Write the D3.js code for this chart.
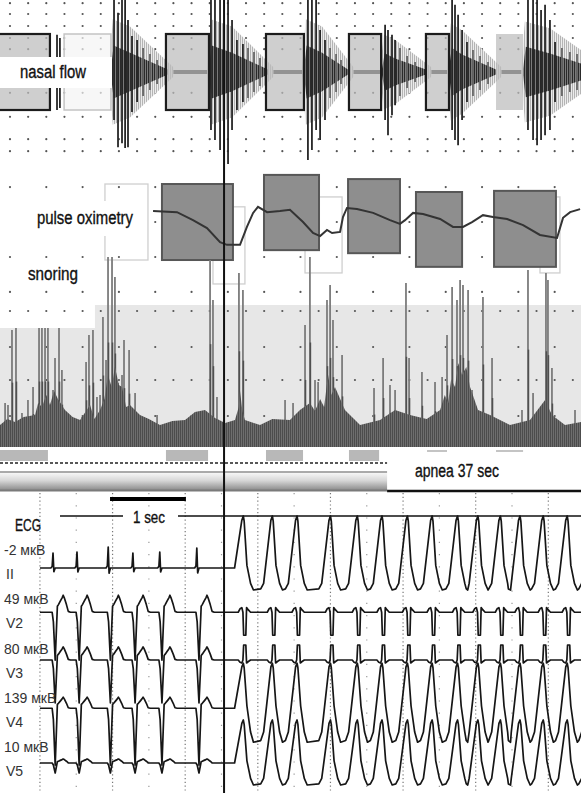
<!DOCTYPE html>
<html lang="en">
<head>
<meta charset="UTF-8">
<title>Apnea episode: nasal flow, oximetry, snoring, ECG</title>
<script src="https://d3js.org/d3.v7.min.js"></script>
<style>
  body { margin: 0; background: #fff; }
  svg { display: block; background: #fff; }
  .lbl { font-family: "Liberation Sans", Arial, sans-serif; fill: #111; stroke: #111; stroke-width: 0.35px; }
  .lead { font-family: "Liberation Sans", Arial, sans-serif; fill: #333; font-size: 14px; }
</style>
</head>
<body>
<svg width="581" height="793"></svg>
<script>
  // ---------- top panels (time in seconds) ----------
  const cursorSec = 123.4;

  // nasal flow: apnea boxes
  const flowBoxStart = [-3, 35.3, 91.4, 146.5, 192.2, 234.6, 273.2];
  const flowBoxEnd   = [27.5, 61.1, 115.1, 167.4, 209.9, 247.3, 288.1];
  const flowBoxKind  = ["dark", "light", "dark", "dark", "dark", "dark", "plain"];

  // nasal flow: breathing bursts (envelope)
  const burstStart = [61.1, 115.1, 167.4, 210.4, 247.3, 288.1];
  const burstFull  = [71.6, 127.8, 177.4, 217.6, 254.5, 302.9];
  const burstEnd   = [92.5, 147.6, 191.7, 234.6, 273.2, 330.5];
  const burstAmp   = [1.2, 1.2, 1.2, 0.85, 1.1, 1.15];

  // nasal flow: spikes
  const flowSpikeT = [31.4, 33.0, 62.8, 65.0, 67.2, 68.9, 70.5, 72.7, 75.5, 78.8, 82.6, 86.5,
                      116.2, 118.4, 121.2, 125.6, 127.8, 130.5, 133.8, 136.6, 139.9, 143.2,
                      169.6, 171.8, 174.1, 176.3, 179.0, 181.8, 185.1, 187.8,
                      212.1, 213.7, 215.9, 217.6, 220.3, 224.2, 228.6,
                      249.0, 250.6, 252.3, 254.5, 257.2, 260.5, 264.4, 268.8,
                      290.8, 293.6, 295.8, 298.0, 300.2, 302.9, 305.7, 309.5, 313.9, 317.8];
  const flowSpikeUp = [0.93, 0.85, 1.8, 1.48, 1.8, 1.8, 1.3, 0.9, 0.8, 0.6, 0.45, 0.3,
                       1.8, 1.8, 1.8, 1.8, 1.3, 0.8, 0.7, 0.6, 0.5, 0.35,
                       1.8, 1.8, 1.8, 1.05, 0.8, 0.6, 0.45, 0.3,
                       1.18, 1.05, 0.93, 0.8, 0.6, 0.4, 0.25,
                       1.8, 1.68, 1.43, 1.05, 0.75, 0.55, 0.4, 0.25,
                       1.8, 1.8, 1.8, 1.55, 1.68, 1.3, 0.75, 0.6, 0.5, 0.45];
  const flowSpikeDown = [0.95, 0.9, 1.2, 1.88, 1.78, 1.9, 1.88, 1.0, 0.75, 0.6, 0.45, 0.3,
                         1.45, 1.7, 1.95, 2.3, 1.45, 0.95, 0.75, 0.65, 0.5, 0.35,
                         2.2, 1.95, 1.45, 1.7, 1.2, 0.65, 0.5, 0.3,
                         1.2, 1.58, 1.08, 0.83, 0.6, 0.4, 0.25,
                         1.45, 1.7, 1.83, 1.2, 0.75, 0.6, 0.45, 0.3,
                         1.45, 1.7, 1.83, 1.7, 1.58, 1.45, 0.75, 0.6, 0.5, 0.45];
  const flowDotRows = [1.72, 1.45, 1.15, 0.85, 0.57, -0.52, -1.12, -1.68, -1.98];

  // pulse oximetry (SpO2 %)
  const spoT = [84.3, 97.5, 106.3, 114.0, 121.2, 125.0, 132.2, 136.0, 139.4, 142.1, 147.1, 154.2, 159.7, 166.9, 172.4,
                176.3, 180.1, 182.9, 187.3, 188.9, 191.1, 196.6, 205.5, 214.8, 220.3, 223.1, 227.5, 233.0, 242.4, 249.5,
                255.0, 260.0, 266.0, 271.5, 279.3, 288.1, 297.4, 306.8, 310.1, 314.0, 319.5];
  const spoV = [95.0, 94.7, 92.6, 90.5, 86.8, 86.1, 86.1, 90.8, 94.5, 96.1, 94.7, 95.0, 95.3, 92.1, 89.2,
                88.4, 90.0, 89.2, 89.5, 93.4, 95.8, 95.5, 94.5, 92.6, 91.6, 92.6, 94.5, 94.2, 92.9, 90.8,
                90.8, 92.1, 93.9, 93.4, 92.9, 91.3, 88.7, 87.9, 93.2, 94.7, 95.5];
  const oxBoxStart = [57.8, 168.0, 297.4, 117.3, 89.2, 145.4, 191.7, 229.1, 272.1];
  const oxBoxEnd   = [81.5, 188.4, 308.4, 134.9, 128.3, 175.7, 220.3, 254.5, 306.2];
  const oxBoxHigh  = [102.1, 98.7, 98.7, 96.1, 102.1, 104.5, 103.4, 100.0, 100.3];
  const oxBoxLow   = [82.1, 78.7, 78.7, 75.8, 82.1, 84.7, 83.9, 80.3, 80.3];
  const oxBoxKind  = ["light", "light", "light", "light", "dark", "dark", "dark", "dark", "dark"];
  const oxDotRows  = [101.3, 92.1, 82.9, 73.7];

  // snoring
  const snoreBandT   = [0, 52.3];
  const snoreBandTop = [59.5, 71];
  const snoreSpikeT = [2.8, 4.4, 6.6, 8.8, 12.1, 15.4, 18.2, 21.5, 23.1, 24.8, 26.4, 29.2, 30.3, 32.5, 34.1, 45.2, 47.4, 49.0,
                       51.2, 53.4, 55.1, 56.7, 58.4, 59.5, 61.7, 63.3, 65.0, 67.2, 68.3, 71.1, 74.4, 86.5, 115.7, 117.3, 119.5,
                       131.6, 133.8, 157.0, 161.4, 168.0, 170.7, 173.5, 175.2, 180.1, 181.8, 183.4, 188.4, 206.0, 211.0, 214.8,
                       217.6, 223.6, 225.3, 232.4, 239.6, 243.5, 246.2, 249.0, 251.7, 253.4, 255.0, 257.8, 260.0, 266.0, 271.0,
                       287.5, 290.8, 293.6, 300.7, 301.8, 304.0, 316.7];
  const snoreSpikeH = [22, 21, 58.5, 59.5, 17, 23.5, 30, 59.5, 59.5, 59.5, 59.5, 28.5, 44.5, 59.5, 38.5, 15, 42.5, 56,
                       58.5, 25, 26, 65, 43.5, 95, 95, 85, 32, 36, 53.5, 48.5, 27, 16, 93.5, 73.5, 25,
                       87, 78.5, 23.5, 22, 61, 95, 33.5, 32.5, 73.5, 81, 63.5, 46, 29.5, 44.5, 31,
                       28.5, 82, 44.5, 37.5, 32.5, 35, 56, 80, 73.5, 83.5, 81, 78.5, 28.5, 75, 44.5,
                       18.5, 88.5, 27, 87, 83.5, 39.5, 18.5];
  const snoreFloorT = [0, 4.0, 8.3, 13.0, 19.3, 21.0, 23.1, 25.5, 27.5, 29.8, 31.9, 35.8, 40.0, 44.1, 49.6, 52.0, 55.1,
                       57.5, 59.5, 61.5, 63.3, 65.5, 67.2, 69.5, 71.6, 77.1, 82.0, 88.1, 95.0, 101.9,
                       107.4, 112.9, 118.4, 124.0, 129.4, 131.5, 132.2, 133.5, 134.9, 143.2, 150.0, 159.7, 165.2, 170.7, 173.5,
                       176.3, 178.5, 180.7, 182.5, 184.5, 190.0, 198.3, 209.3, 217.6, 225.8, 235.0, 242.4, 245.0, 246.8, 248.5,
                       250.6, 252.5, 254.5, 256.8, 258.9, 263.3, 269.9, 280.9, 291.9, 300.2, 304.0, 311.2, 320];
  const snoreFloorH = [11, 14, 12.5, 15, 16, 22, 20, 26, 21, 28, 24, 18.5, 15, 13.5, 21, 14, 18.5,
                       24, 36, 30, 40, 31, 30, 20, 21, 16, 14, 11, 13, 13.5,
                       17.5, 18.5, 14.5, 12, 13.5, 20, 28, 18, 13.5, 11, 14, 13.5, 18.5, 22, 18,
                       24, 20, 36, 26, 30, 18.5, 11, 13.5, 18.5, 16, 14, 18.5, 26, 22, 34,
                       30, 42, 36, 40, 30, 18.5, 16, 11, 13.5, 23.5, 16, 11, 12.5];
  const markStart = [0, 91.4, 146.5, 192.2, 235.2, 273.2];
  const markEnd   = [26.4, 114.6, 166.9, 208.8, 246.2, 288.1];
  const markKind  = ["bar", "bar", "bar", "bar", "line", "line"];
  const apneaEnd = 213.2;
  const apneaLabel = "apnea 37 sec";

  // ---------- ECG (time in seconds) ----------
  const leadNames = ["II", "V2", "V3", "V4", "V5"];
  const leadGains = ["-2 мкВ", "49 мкВ", "80 мкВ", "139 мкВ", "10 мкВ"];
  const leadOffset = [-0.2, 0.3, 0.45, 0.55, 0];
  const preBeats = [0.73, 1.06, 1.49, 1.83, 2.20, 2.71];
  const preAmpII = [1.5, 1.6, 2.1, 1.5, 1.6, 2.0];
  const postBeats = [3.35, 3.75, 4.09, 4.55, 4.92, 5.26, 5.61, 5.95, 6.30, 6.58, 6.89, 7.16, 7.48, 7.81, 8.13];
  const prePos  = [1, 1.7, 1.3, 1.1, 0.4];
  const preNeg  = [1, 4.8, 4.3, 5.7, 1.0];
  const postPos = [5.2, 2.3, -1.5, 4.5, 4.3];
  const postNeg = [2.2, 2.3, -1.5, 3.4, 2.2];
  const postKind = ["wide", "spike", "spike", "wide", "wide"];
  // beat shapes: [seconds from beat, relative amplitude]
  const narrowQRS = [[-0.03, 0], [-0.012, 0.1], [0, 1], [0.012, -0.25], [0.03, 0]];
  const rsBeat = [[-0.012, 0], [0.005, -0.2], [0.03, -1], [0.06, 0.35], [0.075, 0.45], [0.1, 0.65], [0.125, 0.85],
                  [0.14, 1], [0.155, 0.85], [0.185, 0.45], [0.21, 0.05], [0.24, 0]];
  const wideBeat = [[-0.16, -0.95], [-0.12, -0.7], [-0.02, 0.92], [0, 1], [0.012, 0.9], [0.05, 0.05],
                    [0.1, -0.7], [0.14, -1]];
  const spikeBeat = [[-0.07, 0], [-0.045, 0.15], [-0.02, 0.2], [-0.005, 0], [0.005, -1], [0.035, -1], [0.045, 0.2],
                     [0.07, 0.1], [0.1, 0]];
  const ecgStart = 0.55, ecgEnd = 8.3;
  const gridStart = 0.55;
  const scaleBar = [1.515, 2.56];

  // ---------- setup ----------
  const svg = d3.select("svg");
  const W = +svg.attr("width"), H = +svg.attr("height");

  const topX = d3.scaleLinear().domain([0, 320]).range([0, W]);
  const ecgX = d3.scaleLinear().domain([0, 8]).range([0, W]);
  const flowY = d3.scaleLinear().domain([-2.5, 1.8]).range([172, 0]);
  const spoY = d3.scaleLinear().domain([85, 100]).range([249, 192]);
  const snoreY = d3.scaleLinear().domain([0, 100]).range([447, 247]);
  const laneY = d3.scaleLinear().domain([0, 4]).range([566, 763]);
  const ampY = d3.scaleLinear().domain([0, 1]).range([0, -10]);

  const defs = svg.append("defs");
  const hatch = (id, col, bg) => {
    const p = defs.append("pattern").attr("id", id).attr("width", 2).attr("height", 4)
      .attr("patternUnits", "userSpaceOnUse");
    p.append("rect").attr("width", 2).attr("height", 4).attr("fill", bg);
    p.append("rect").attr("width", 1).attr("height", 4).attr("fill", col);
  };
  hatch("hatchDark", "#2a2a2a", "#7a7a7a");
  hatch("hatchLight", "#b4b4b4", "#ececec");
  hatch("hatchFloor", "#4c4c4c", "#6e6e6e");
  const grad = defs.append("linearGradient").attr("id", "tube").attr("x1", 0).attr("x2", 0).attr("y1", 0).attr("y2", 1);
  grad.append("stop").attr("offset", "0%").attr("stop-color", "#f6f6f6");
  grad.append("stop").attr("offset", "45%").attr("stop-color", "#d6d6d6");
  grad.append("stop").attr("offset", "100%").attr("stop-color", "#8c8c8c");
  defs.append("clipPath").attr("id", "clipAll").append("rect").attr("width", W).attr("height", H);

  const dotRow = (g, y, step) => {
    g.selectAll(null).data(d3.range(5.5, 320, step)).join("circle")
      .attr("cx", d => topX(d)).attr("cy", y).attr("r", 1.1).attr("fill", "#555");
  };
  // condensed label: regular font squeezed to the measured width
  const label = (g, x, y, size, width, txt) => g.append("text").attr("class", "lbl")
    .attr("x", x).attr("y", y).attr("font-size", size)
    .attr("textLength", width).attr("lengthAdjust", "spacingAndGlyphs").text(txt);

  // ---------- nasal flow ----------
  const flow = svg.append("g").attr("clip-path", "url(#clipAll)");
  flowDotRows.forEach(v => dotRow(flow, flowY(v), 10));

  flow.append("rect").attr("x", 0).attr("width", W)
    .attr("y", flowY(0.05)).attr("height", flowY(-0.05) - flowY(0.05)).attr("fill", "#2a2a2a");

  const env = d3.area().x(d => topX(d[0])).y0(d => flowY(-d[1])).y1(d => flowY(d[1]));
  burstStart.forEach((s, i) => {
    const a = burstAmp[i];
    flow.append("path").attr("fill", "url(#hatchLight)")
      .attr("d", env([[s - 1, 0.1], [s + 1, a * 1.1], [burstFull[i], a * 0.95], [burstEnd[i] + 3, 0.12]]));
    flow.append("path").attr("fill", "url(#hatchDark)")
      .attr("d", env([[s, 0.08], [s + 1.5, a * 0.55], [burstFull[i], a * 0.4], [burstEnd[i], 0.06]]));
  });

  flow.selectAll(null).data(flowSpikeT).join("line")
    .attr("x1", d => topX(d)).attr("x2", d => topX(d))
    .attr("y1", (d, i) => flowY(flowSpikeUp[i])).attr("y2", (d, i) => flowY(-flowSpikeDown[i]))
    .attr("stroke", (d, i) => flowSpikeUp[i] < 0.7 ? "#666" : "#262626").attr("stroke-width", 1.8);

  flowBoxStart.forEach((s, i) => {
    const k = flowBoxKind[i];
    flow.append("rect")
      .attr("x", topX(s)).attr("width", topX(flowBoxEnd[i]) - topX(s))
      .attr("y", flowY(0.95)).attr("height", flowY(-0.95) - flowY(0.95))
      .attr("fill", k === "light" ? "#f3f3f3" : "#bcbcbc")
      .attr("fill-opacity", k === "light" ? 0.7 : 0.72)
      .attr("stroke", k === "dark" ? "#1c1c1c" : (k === "light" ? "#c4c4c4" : "none"))
      .attr("stroke-width", k === "dark" ? 2.2 : 1.5);
  });

  flow.append("rect").attr("x", 0).attr("y", 57).attr("width", 112).attr("height", 31).attr("fill", "#fff");
  label(flow, 20, 78, 18, 66, "nasal flow");

  // ---------- pulse oximetry ----------
  const ox = svg.append("g");
  oxDotRows.forEach(v => dotRow(ox, spoY(v), 20));

  oxBoxStart.forEach((s, i) => {
    const dark = oxBoxKind[i] === "dark";
    ox.append("rect")
      .attr("x", topX(s)).attr("width", topX(oxBoxEnd[i]) - topX(s))
      .attr("y", spoY(oxBoxHigh[i])).attr("height", spoY(oxBoxLow[i]) - spoY(oxBoxHigh[i]))
      .attr("fill", dark ? "#8e8e8e" : "none")
      .attr("stroke", dark ? "#575757" : "#cfcfcf")
      .attr("stroke-width", dark ? 2 : 1.3);
  });

  ox.append("path")
    .datum(spoT.map((t, i) => [t, spoV[i]]))
    .attr("fill", "none").attr("stroke", "#343434").attr("stroke-width", 2)
    .attr("d", d3.line().x(d => topX(d[0])).y(d => spoY(d[1])));

  ox.append("rect").attr("x", 8).attr("y", 201).attr("width", 137).attr("height", 35).attr("fill", "#fff");
  label(ox, 37, 224, 18, 96, "pulse oximetry");
  label(ox, 28, 280, 18, 50, "snoring");

  // ---------- snoring ----------
  const sn = svg.append("g");
  snoreBandT.forEach((t, i) => {
    const t2 = i + 1 < snoreBandT.length ? snoreBandT[i + 1] : 320;
    sn.append("rect").attr("x", topX(t)).attr("width", topX(t2) - topX(t))
      .attr("y", snoreY(snoreBandTop[i])).attr("height", snoreY(0) - snoreY(snoreBandTop[i]))
      .attr("fill", "#e7e7e7");
  });
  dotRow(sn, snoreY(68), 10);
  dotRow(sn, snoreY(50), 20);
  dotRow(sn, snoreY(33.5), 10);
  dotRow(sn, snoreY(15.5), 20);

  sn.selectAll(null).data(snoreSpikeT).join("line")
    .attr("x1", d => topX(d)).attr("x2", d => topX(d))
    .attr("y1", (d, i) => snoreY(snoreSpikeH[i])).attr("y2", snoreY(0))
    .attr("stroke", "#7c7c7c").attr("stroke-width", 1.8);
  sn.selectAll(null).data(snoreSpikeT).join("line")
    .attr("x1", d => topX(d) + 0.5).attr("x2", d => topX(d) + 0.5)
    .attr("y1", (d, i) => snoreY(snoreSpikeH[i] * 0.55)).attr("y2", snoreY(0))
    .attr("stroke", "#505050").attr("stroke-width", 1.5);

  sn.append("path")
    .datum(snoreFloorT.map((t, i) => [t, snoreFloorH[i]]))
    .attr("fill", "url(#hatchFloor)")
    .attr("d", d3.area().x(d => topX(d[0])).y0(snoreY(0)).y1(d => snoreY(d[1])));

  // event markers under snoring
  markStart.forEach((s, i) => {
    if (markKind[i] === "bar") {
      sn.append("rect").attr("x", topX(s)).attr("width", topX(markEnd[i]) - topX(s))
        .attr("y", 450).attr("height", 11).attr("fill", "#b8b8b8");
    } else {
      sn.append("line").attr("x1", topX(s)).attr("x2", topX(markEnd[i]))
        .attr("y1", 451).attr("y2", 451).attr("stroke", "#b0b0b0").attr("stroke-width", 1.5);
    }
  });

  sn.append("line").attr("x1", 0).attr("x2", topX(apneaEnd)).attr("y1", 463).attr("y2", 463)
    .attr("stroke", "#222").attr("stroke-width", 1.6).attr("stroke-dasharray", "3,2");
  sn.append("line").attr("x1", 0).attr("x2", topX(apneaEnd)).attr("y1", 472).attr("y2", 472)
    .attr("stroke", "#555").attr("stroke-width", 1);
  sn.append("rect").attr("x", 0).attr("y", 473).attr("width", topX(apneaEnd)).attr("height", 17)
    .attr("fill", "url(#tube)");
  sn.append("line").attr("x1", 0).attr("x2", topX(apneaEnd)).attr("y1", 490.5).attr("y2", 490.5)
    .attr("stroke", "#7a7a7a").attr("stroke-width", 2);
  sn.append("line").attr("x1", topX(apneaEnd)).attr("x2", W).attr("y1", 491).attr("y2", 491)
    .attr("stroke", "#111").attr("stroke-width", 2.6);
  label(sn, 415, 477, 18, 84, apneaLabel);

  // ---------- ECG ----------
  const ecg = svg.append("g").attr("clip-path", "url(#clipAll)");
  d3.range(gridStart, 8, 0.5).forEach((t, k) => {
    ecg.append("line").attr("x1", ecgX(t)).attr("x2", ecgX(t)).attr("y1", 493).attr("y2", H)
      .attr("stroke", k % 2 ? "#9a9a9a" : "#777")
      .attr("stroke-width", 1.2)
      .attr("stroke-dasharray", k % 2 ? "1.2,11" : "1.2,2.6");
  });

  ecg.append("line").attr("x1", ecgX(scaleBar[0])).attr("x2", ecgX(scaleBar[1])).attr("y1", 499).attr("y2", 499)
    .attr("stroke", "#000").attr("stroke-width", 4);
  ecg.append("line").attr("x1", 60).attr("x2", W).attr("y1", 516).attr("y2", 516)
    .attr("stroke", "#111").attr("stroke-width", 1.3);
  ecg.append("rect").attr("x", 123).attr("y", 507).attr("width", 55).attr("height", 18).attr("fill", "#fff");
  label(ecg, 133, 523, 17, 32, "1 sec");
  label(ecg, 15, 531, 17, 26, "ECG");

  const ecgSwitch = ecgX.invert(topX(cursorSec));

  function beatPoints(beats, tmpl, pos, neg, gains, t0, t1, flatLead) {
    const pts = [];
    beats.forEach((b, k) => {
      const g = gains ? gains[k] : 1;
      tmpl.forEach(([dt, v]) => {
        let val = (v >= 0 ? v * pos : v * neg) * g;
        if (flatLead && k === 0 && dt < 0 && val < 0) val = 0;
        const t = b + dt;
        if (t > t0 && t < t1) pts.push([t, val]);
      });
    });
    return pts.sort((a, b) => a[0] - b[0]);
  }

  leadNames.forEach((name, i) => {
    const base = laneY(i);
    const pre = i === 0
      ? beatPoints(preBeats, narrowQRS, 1, 1, preAmpII, ecgStart, ecgSwitch, false)
      : beatPoints(preBeats, rsBeat, prePos[i], preNeg[i], null, ecgStart, ecgSwitch, false);
    const post = postKind[i] === "wide"
      ? beatPoints(postBeats, wideBeat, postPos[i], postNeg[i], null, ecgSwitch, ecgEnd, true)
      : beatPoints(postBeats, spikeBeat, postPos[i], postNeg[i], null, ecgSwitch, ecgEnd, false);
    const pts = [[ecgStart, 0], ...pre, [ecgSwitch, 0], ...post];
    ecg.append("path").datum(pts)
      .attr("fill", "none").attr("stroke", "#161616").attr("stroke-width", 1.7)
      .attr("stroke-linejoin", "round")
      .attr("d", d3.line().x(d => ecgX(d[0])).y(d => base + ampY(d[1] + leadOffset[i])));

    ecg.append("text").attr("class", "lead").attr("x", 4).attr("y", base - 11).text(leadGains[i]);
    ecg.append("text").attr("class", "lead").attr("x", 6).attr("y", base + 13).attr("fill", "#555").text(name);
  });

  // cursor
  svg.append("line").attr("x1", topX(cursorSec)).attr("x2", topX(cursorSec)).attr("y1", 0).attr("y2", H)
    .attr("stroke", "#111").attr("stroke-width", 2);
</script>
</body>
</html>
